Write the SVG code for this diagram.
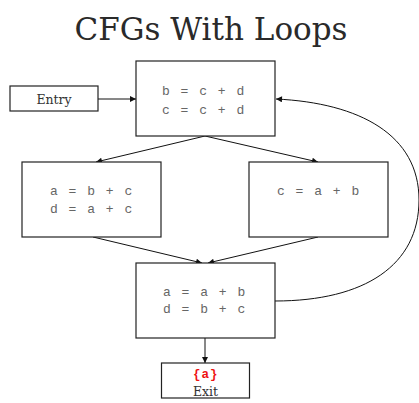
<svg xmlns="http://www.w3.org/2000/svg" width="419" height="403" viewBox="0 0 419 403">
  <style>
    .box { fill: #ffffff; stroke: #222222; stroke-width: 1.2; }
    .edge { fill: none; stroke: #111111; stroke-width: 1; }
    .title { font-family: "DejaVu Serif", serif; font-size: 31px; fill: #2a2a2a; text-anchor: middle; }
    .label { font-family: "DejaVu Serif", serif; font-size: 12.5px; fill: #333333; text-anchor: middle; }
    .code { font-family: "Liberation Mono", "Courier New", monospace; font-size: 13px; fill: #666666; letter-spacing: 1.5px; white-space: pre; }
    .live { font-family: "Liberation Mono", "Courier New", monospace; font-size: 12.5px; font-weight: bold; fill: #ee1111; letter-spacing: 1px; }
  </style>
  <defs>
    <marker id="arrow" viewBox="0 0 10 10" refX="10" refY="5" markerWidth="9" markerHeight="6" markerUnits="userSpaceOnUse" orient="auto">
      <path d="M0,0 L10,5 L0,10 Z" fill="#111111"/>
    </marker>
  </defs>

  <text class="title" x="211" y="40">CFGs With Loops</text>

  <!-- control-flow edges -->
  <g id="edges">
    <line class="edge" x1="98" y1="99" x2="136" y2="99" marker-end="url(#arrow)"/>
    <line class="edge" x1="205" y1="136" x2="96" y2="162" marker-end="url(#arrow)"/>
    <line class="edge" x1="205" y1="136" x2="318" y2="162" marker-end="url(#arrow)"/>
    <line class="edge" x1="93" y1="237" x2="202" y2="263" marker-end="url(#arrow)"/>
    <line class="edge" x1="318" y1="237" x2="208" y2="263" marker-end="url(#arrow)"/>
    <line class="edge" x1="205" y1="338" x2="205" y2="363" marker-end="url(#arrow)"/>
    <!-- back edge of the loop -->
    <path class="edge" d="M275,301 C365,301 419,265 419,200 C419,135 360,103 276,99" marker-end="url(#arrow)"/>
  </g>

  <g id="entry">
    <rect class="box" x="10" y="86" width="88" height="25"/>
    <text class="label" x="54" y="103.5">Entry</text>
  </g>

  <g id="b1">
    <rect class="box" x="136" y="61" width="139" height="75"/>
    <text class="code" x="162" y="95">b = c + d</text>
    <text class="code" x="162" y="113.5">c = c + d</text>
  </g>

  <g id="b2">
    <rect class="box" x="22" y="162" width="139" height="75"/>
    <text class="code" x="50" y="195">a = b + c</text>
    <text class="code" x="50" y="213">d = a + c</text>
  </g>

  <g id="b3">
    <rect class="box" x="249" y="162" width="139" height="75"/>
    <text class="code" x="277" y="195">c = a + b</text>
  </g>

  <g id="b4">
    <rect class="box" x="136" y="263" width="139" height="75"/>
    <text class="code" x="163" y="295.5">a = a + b</text>
    <text class="code" x="163" y="313">d = b + c</text>
  </g>

  <g id="exit">
    <rect class="box" x="161.5" y="363" width="88" height="35"/>
    <text class="live" x="193" y="378">{a}</text>
    <text class="label" x="205.5" y="396">Exit</text>
  </g>
</svg>
